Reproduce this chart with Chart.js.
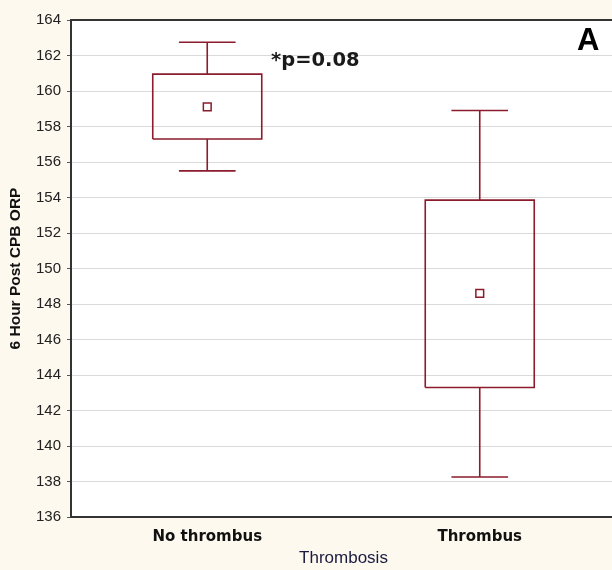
<!DOCTYPE html>
<html>
<head>
<meta charset="utf-8">
<script src="https://cdn.jsdelivr.net/npm/chart.js@4"></script>
<style>
  html, body { margin:0; padding:0; background:#fdf9ef; overflow:hidden; }
  body { width:612px; height:570px; }
  canvas { display:block; }
</style>
</head>
<body>
<canvas id="chart" width="623" height="570"></canvas>
<script>
// box plot data (mean, box, whiskers)
const groups      = ['No thrombus', 'Thrombus'];
const means       = [159.1, 148.6];
const boxLow      = [157.3, 143.3];
const boxHigh     = [160.95, 153.85];
const whiskerLow  = [155.5, 138.25];
const whiskerHigh = [162.75, 158.9];
const yTicks      = [136, 138, 140, 142, 144, 146, 148, 150, 152, 154, 156, 158, 160, 162, 164];

const RED = '#8a1c2d';
const BOX_HALF = 0.2, CAP_HALF = 0.104;

// outline of each box + whiskers as one broken line, in data units
function boxPath(i){
  const c = i + 0.5, lo = boxLow[i], hi = boxHigh[i];
  const gap = {x:c, y:null};
  return [
    {x:c-BOX_HALF,y:lo},{x:c+BOX_HALF,y:lo},{x:c+BOX_HALF,y:hi},{x:c-BOX_HALF,y:hi},{x:c-BOX_HALF,y:lo}, gap,
    {x:c,y:hi},{x:c,y:whiskerHigh[i]}, gap,
    {x:c-CAP_HALF,y:whiskerHigh[i]},{x:c+CAP_HALF,y:whiskerHigh[i]}, gap,
    {x:c,y:lo},{x:c,y:whiskerLow[i]}, gap,
    {x:c-CAP_HALF,y:whiskerLow[i]},{x:c+CAP_HALF,y:whiskerLow[i]}
  ];
}

const frame = {
  id:'frame',
  beforeDraw(chart){
    const {ctx, chartArea:a} = chart;
    ctx.save();
    ctx.fillStyle = '#fdf9ef';
    ctx.fillRect(0, 0, chart.width, chart.height);
    ctx.fillStyle = '#ffffff';
    ctx.fillRect(a.left, a.top, a.right - a.left, a.bottom - a.top);
    ctx.restore();
  },
  afterDraw(chart){
    const {ctx, chartArea:a} = chart;
    ctx.save();
    ctx.strokeStyle = '#333';
    ctx.lineWidth = 2;
    ctx.beginPath(); ctx.moveTo(a.left, a.top); ctx.lineTo(a.right, a.top); ctx.stroke();
    ctx.fillStyle = '#1a1a1a';
    ctx.textBaseline = 'middle';
    ctx.font = 'bold 19.5px "DejaVu Sans"';
    ctx.fillText('*p=0.08', 271, 61);
    ctx.font = 'bold 31px "Liberation Sans"';
    ctx.fillStyle = '#000';
    ctx.fillText('A', 577, 41);
    ctx.restore();
  }
};

const datasets = groups.map((g, i) => ({
  type:'line', data: boxPath(i), borderColor: RED, borderWidth: 1.6,
  pointRadius: 0, spanGaps: false, tension: 0
}));
datasets.push({
  type:'scatter', data: means.map((m, i) => ({x: i + 0.5, y: m})),
  pointStyle:'rect', pointRadius: 5.5, pointBorderWidth: 1.5,
  pointBorderColor: RED, pointBackgroundColor: '#fff'
});

new Chart(document.getElementById('chart'), {
  data: { datasets },
  options: {
    responsive:false, animation:false,
    layout:{ padding:{ top:20, right:0, left:0, bottom:0 } },
    plugins:{ legend:{display:false}, tooltip:{enabled:false} },
    scales:{
      x:{
        type:'linear', min:0, max:2,
        afterBuildTicks: s => { s.ticks = groups.map((g, i) => ({value: i + 0.5})); },
        afterFit: s => { s.height = 53; },
        ticks:{ callback: v => groups[Math.floor(v)], color:'#111', padding:11,
                font:{ family:'"DejaVu Sans"', size:15, weight:'bold' } },
        grid:{ display:false, drawTicks:false },
        border:{ display:true, color:'#333', width:2 },
        title:{ display:true, text:'Thrombosis', color:'#1b1b40', padding:{top:0,bottom:1},
                font:{ family:'"Liberation Sans"', size:17 } }
      },
      y:{
        min:136, max:164,
        afterBuildTicks: s => { s.ticks = yTicks.map(v => ({value:v})); },
        afterFit: s => { s.width = 71; },
        ticks:{ color:'#222', padding:6, font:{ family:'"Liberation Sans"', size:15 } },
        grid:{ color:'#dadada', lineWidth:1, tickLength:4, tickColor:'#555' },
        border:{ display:true, color:'#333', width:2 },
        title:{ display:true, text:'6 Hour Post CPB ORP', color:'#111', padding:{top:6,bottom:0},
                font:{ family:'"Liberation Sans"', size:15.5, weight:'bold' } }
      }
    }
  },
  plugins:[frame]
});
</script>
</body>
</html>
